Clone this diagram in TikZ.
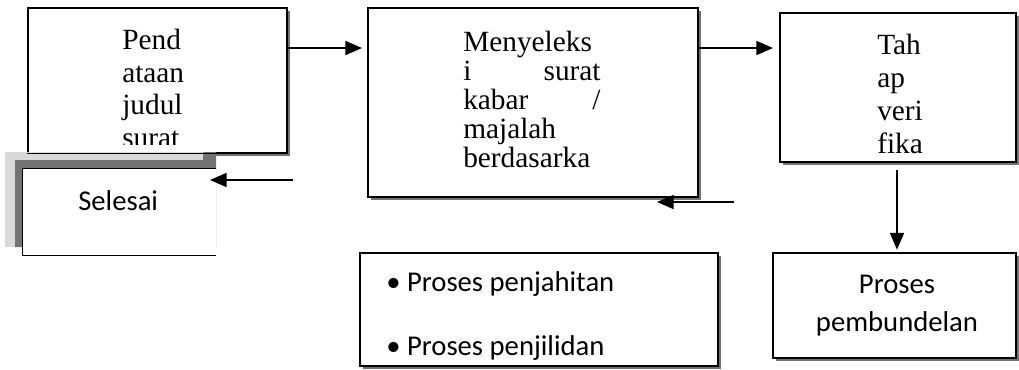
\documentclass[tikz,border=0pt]{standalone}
\usepackage{fontspec}
\setmainfont{Liberation Serif}
\newfontfamily\calibri{Carlito}
\usetikzlibrary{arrows.meta,shadows,fit}
\begin{document}
\begin{tikzpicture}[x=0.75pt,y=-0.75pt,
box/.style={draw,line width=1.1pt,fill=white,inner sep=0pt},
shade box/.style={box,general shadow={fill=black!55,shadow xshift=2.5pt,shadow yshift=-2.5pt}},
flow/.style={-{Triangle[length=12.5pt,width=10.5pt]},line width=1.2pt},
serif/.style={inner sep=0pt,align=left,font=\fontsize{22}{#1}\selectfont},
sans/.style={inner sep=0pt,font=\calibri\fontsize{21.5}{28}\selectfont}]
\useasboundingbox (0,0) rectangle (1019,369);
\node[shade box,fit={(28,8)(287,153)}] (judul) {};
\begin{scope}
\clip (judul.north west) rectangle ([yshift=6.75pt]judul.south east);
\node[serif=24.4pt,anchor=north west] (judultxt) at (122,29) {Pend\\ataan\\judul\\surat};
\end{scope}
\fill[black!15] (5,152) rectangle (203,247);
\fill[black!55] (15,160) rectangle (216,247) (203,152) rectangle (216,160);
\node[fill=white,inner sep=0pt,fit={(23,169)(216,255)}] (selesai) {};
\draw[line width=1.1pt] (selesai.north east) -- (selesai.north west) -- (selesai.south west) -- (selesai.south east);
\draw[line width=1.1pt] (judul.south west) -- (judul.south east);
\node[sans,anchor=base west] (selesaitxt) at (78,210) {Selesai};
\node[shade box,fit={(368,8)(698,197)}] (seleksi) {};
\node[serif=21.75pt,anchor=north west,text width=103pt] (seleksitxt) at (463,31) {Menyeleks\\i\hfill surat\\kabar\hfill /\\majalah\\berdasarka};
\node[shade box,fit={(780,13)(1016,162)}] (verif) {};
\node[serif=24.75pt,anchor=north west] (veriftxt) at (877,34) {Tah\\ap\\veri\\fika};
\node[shade box,fit={(773,253)(1016,358)}] (bundel) {};
\node[sans,align=center,anchor=north] (bundeltxt) at (897,275) {Proses\\pembundelan};
\node[shade box,fit={(360,253)(718,366)}] (jilid) {};
\node[sans,anchor=base west] (jahit) at (386,291) {\textbullet\ Proses penjahitan};
\node[sans,anchor=base west] (jilidtxt) at (386,355) {\textbullet\ Proses penjilidan};
\coordinate (m1) at (362,48);
\coordinate (m2) at (773,48);
\coordinate (k3) at (293,180);
\coordinate (m3) at (210,180);
\coordinate (k4) at (734,202);
\coordinate (m4) at (657,202);
\coordinate (k5) at (897,170);
\draw[flow] (judul.east |- m1) -- (m1);
\draw[flow] (seleksi.east |- m2) -- (m2);
\foreach \a/\b in {k3/m3,k4/m4}
\draw[flow] (\a) -- (\b);
\draw[flow,shorten >=2pt] (k5) -- (k5 |- bundel.north);
\end{tikzpicture}
\end{document}
